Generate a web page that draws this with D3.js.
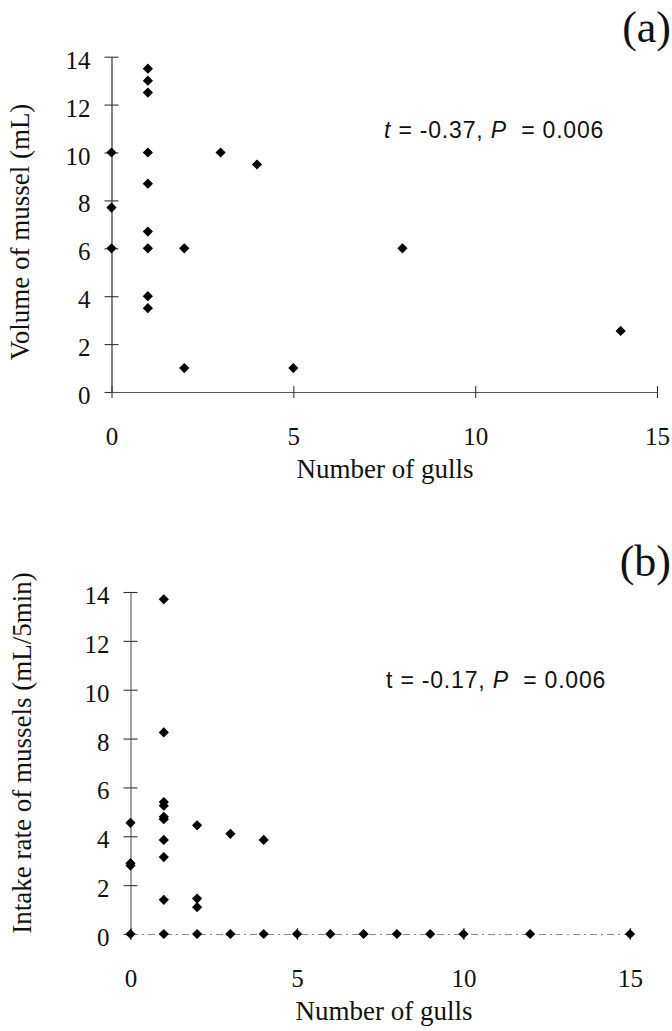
<!DOCTYPE html>
<html>
<head>
<meta charset="utf-8">
<script src="https://cdn.jsdelivr.net/npm/d3@7"></script>
<style>
  html, body { margin: 0; padding: 0; background: #fff; }
  svg { display: block; }
</style>
</head>
<body>
<div id="chart"></div>
<script>
"use strict";

// panel (a): volume of mussel vs number of gulls
const gullsA  = [0, 0, 0, 1, 1, 1, 1, 1, 1, 1, 1, 1, 2, 2, 3, 4, 5, 8, 14];
const volumeA = [10, 7.7, 6, 13.5, 13, 12.5, 10, 8.7, 6.7, 6, 4, 3.5, 6, 1, 10, 9.5, 1, 6, 2.55];

// panel (b): intake rate vs number of gulls
const gullsB  = [0, 0, 0, 0,
                 1, 1, 1, 1, 1, 1, 1, 1, 1, 1,
                 2, 2, 2, 2,
                 3, 3, 4, 4,
                 5, 6, 7, 8, 9, 10, 12, 15];
const intakeB = [4.55, 2.9, 2.8, 0,
                 13.7, 8.25, 5.4, 5.25, 4.8, 4.7, 3.85, 3.15, 1.4, 0,
                 4.45, 1.45, 1.1, 0,
                 4.1, 0, 3.85, 0,
                 0, 0, 0, 0, 0, 0, 0, 0];

const xTicks = [0, 5, 10, 15];
const yTicks = [0, 2, 4, 6, 8, 10, 12, 14];

const SERIF = '"Liberation Serif", "Times New Roman", Times, "DejaVu Serif", serif';
const SANS = '"Liberation Sans", Arial, Helvetica, sans-serif';

const width = 672, height = 1031;

const svg = d3.select("#chart").append("svg")
    .attr("width", width)
    .attr("height", height);

svg.append("rect").attr("width", width).attr("height", height).attr("fill", "#fff");

const diamond = d3.symbol().type(d3.symbolSquare).size(52);

function drawPanel(opt) {
    const x = d3.scaleLinear().domain([0, 15]).range([opt.left, opt.right]);
    const y = d3.scaleLinear().domain([0, 14]).range([opt.bottom, opt.top]);
    const g = svg.append("g");

    // y axis, ticks crossing the line
    const yAxis = g.append("g")
        .attr("transform", `translate(${opt.left},0)`)
        .call(d3.axisLeft(y).tickValues(yTicks).tickSizeOuter(0).tickSizeInner(7).tickPadding(14));
    yAxis.select(".domain").attr("stroke", opt.yColor).attr("stroke-width", 1.2);
    yAxis.selectAll(".tick line").attr("x1", -7).attr("x2", 7).attr("stroke", "#333").attr("stroke-width", 1.1);
    yAxis.selectAll(".tick text").attr("dy", "0.46em");

    // x axis
    const xAxis = g.append("g")
        .attr("transform", `translate(0,${opt.bottom})`)
        .call(d3.axisBottom(x).tickValues(xTicks).tickSizeOuter(0).tickSizeInner(6).tickPadding(29));
    xAxis.select(".domain").attr("stroke", opt.xColor).attr("stroke-width", 1.2)
        .attr("stroke-dasharray", opt.xDash);
    xAxis.selectAll(".tick line").attr("y1", -6).attr("y2", 6).attr("stroke", "#333").attr("stroke-width", 1.1);
    xAxis.selectAll(".tick text").attr("dy", "0.71em");

    g.selectAll(".tick text")
        .attr("font-family", SERIF)
        .attr("font-size", 25)
        .attr("fill", "#111");

    // points
    g.append("g").selectAll("path")
        .data(opt.xs.map((v, i) => [v, opt.ys[i]]))
        .join("path")
        .attr("d", diamond)
        .attr("transform", d => `translate(${x(d[0])},${y(d[1])}) rotate(45)`)
        .attr("fill", "#000");

    // titles
    g.append("text")
        .attr("x", opt.xTitleX).attr("y", opt.xTitleY)
        .attr("text-anchor", "middle")
        .attr("font-family", SERIF).attr("font-size", 27).attr("fill", "#111")
        .text("Number of gulls");

    g.append("text")
        .attr("transform", `translate(${opt.yTitleX},${opt.yTitleY}) rotate(-90)`)
        .attr("text-anchor", "middle")
        .attr("font-family", SERIF).attr("font-size", 27).attr("fill", "#111")
        .text(opt.yTitle);

    g.append("text")
        .attr("x", 671).attr("y", opt.panelY)
        .attr("text-anchor", "end")
        .attr("font-family", SERIF).attr("font-size", 44).attr("fill", "#111")
        .text(opt.panel);

    // statistics note
    const st = g.append("text")
        .attr("x", opt.statX).attr("y", opt.statY)
        .attr("font-family", SANS).attr("font-size", 23).attr("fill", "#111")
        .attr("letter-spacing", 0.8)
        .style("white-space", "pre");
    st.append("tspan").attr("font-style", opt.tItalic ? "italic" : "normal").text("t");
    st.append("tspan").text(" = " + opt.tValue + ", ");
    st.append("tspan").attr("font-style", "italic").text("P");
    st.append("tspan").text("  = 0.006");
}

drawPanel({
    left: 111.5, right: 657, top: 56.7, bottom: 392,
    xs: gullsA, ys: volumeA,
    yColor: "#333", xColor: "#555", xDash: null,
    xTitleX: 385, xTitleY: 478,
    yTitleX: 29, yTitleY: 232, yTitle: "Volume of mussel (mL)",
    panel: "(a)", panelY: 42,
    statX: 384, statY: 138, tValue: "-0.37", tItalic: true
});

drawPanel({
    left: 130.5, right: 630, top: 592, bottom: 934,
    xs: gullsB, ys: intakeB,
    yColor: "#666", xColor: "#888", xDash: "7,4,2,4",
    xTitleX: 384, xTitleY: 1020,
    yTitleX: 31, yTitleY: 753, yTitle: "Intake rate of mussels (mL/5min)",
    panel: "(b)", panelY: 576,
    statX: 386, statY: 688, tValue: "-0.17", tItalic: false
});
</script>
</body>
</html>
